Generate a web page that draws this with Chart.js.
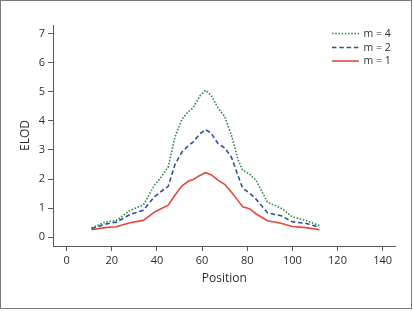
<!DOCTYPE html>
<html>
<head>
<meta charset="utf-8">
<script src="https://cdn.jsdelivr.net/npm/chart.js@4/dist/chart.umd.min.js"></script>
<style>
  html, body { margin: 0; padding: 0; background: #ffffff; }
  #frame { position: absolute; left: 0; top: 0; width: 410px; height: 307px; border: 1px solid #7a7a7a; background: #fff; }
  canvas { display: block; }
</style>
</head>
<body>
<div id="frame"><canvas id="c" width="410" height="307"></canvas></div>
<script>
// ---- data ----
const positions = [11, 17, 22, 28, 34, 39, 42, 45, 48, 51, 54, 56, 59, 61.5, 64, 67, 70, 73, 76, 78, 81, 84, 89, 95, 100, 106, 112];
const elodM4 = [0.32, 0.52, 0.58, 0.92, 1.11, 1.80, 2.08, 2.42, 3.45, 4.05, 4.32, 4.45, 4.85, 5.05, 4.88, 4.45, 4.15, 3.50, 2.65, 2.30, 2.17, 1.95, 1.20, 1.00, 0.70, 0.58, 0.40];
const elodM2 = [0.29, 0.45, 0.52, 0.78, 0.93, 1.40, 1.58, 1.75, 2.50, 2.92, 3.15, 3.27, 3.55, 3.70, 3.58, 3.22, 3.07, 2.75, 2.10, 1.68, 1.52, 1.30, 0.84, 0.74, 0.53, 0.48, 0.34];
const elodM1 = [0.26, 0.33, 0.36, 0.50, 0.58, 0.87, 0.99, 1.10, 1.45, 1.76, 1.93, 1.98, 2.12, 2.22, 2.15, 1.96, 1.82, 1.55, 1.25, 1.05, 0.98, 0.80, 0.57, 0.48, 0.37, 0.33, 0.26];
const seriesLabels = ['m = 4', 'm = 2', 'm = 1'];
const xTickValues = [0, 20, 40, 60, 80, 100, 120, 140];
const yTickValues = [0, 1, 2, 3, 4, 5, 6, 7];
const xTitle = 'Position';
const yTitle = 'ELOD';

const toPoints = (vals) => positions.map((p, i) => ({x: p, y: vals[i]}));

const FONT = '"Open Sans", "DejaVu Sans", sans-serif';
const TEXT = '#2e2e2e';
const AXIS = '#5a5a5a';

const legendPlugin = {
  id: 'manualLegend',
  afterDraw(chart) {
    const ctx = chart.ctx;
    const rows = [32.5, 46.5, 60];
    ctx.save();
    chart.data.datasets.forEach((ds, i) => {
      const y = rows[i];
      ctx.beginPath();
      ctx.strokeStyle = ds.borderColor;
      ctx.lineWidth = ds.borderWidth;
      ctx.setLineDash(ds.borderDash || []);
      ctx.moveTo(331, y);
      ctx.lineTo(358, y);
      ctx.stroke();
      ctx.setLineDash([]);
      ctx.fillStyle = TEXT;
      ctx.font = '10.5px ' + FONT;
      ctx.textAlign = 'left';
      ctx.textBaseline = 'middle';
      ctx.fillText(ds.label, 362.5, y + 0.5);
    });
    ctx.restore();
  }
};

new Chart(document.getElementById('c'), {
  type: 'scatter',
  data: {
    datasets: [
      { label: seriesLabels[0], data: toPoints(elodM4), showLine: true, borderColor: '#2e8a4e', borderWidth: 1.6, borderDash: [1.6, 1.6], pointRadius: 0, tension: 0, fill: false },
      { label: seriesLabels[1], data: toPoints(elodM2), showLine: true, borderColor: '#2d4f9c', borderWidth: 1.6, borderDash: [4.5, 2.8], pointRadius: 0, tension: 0, fill: false },
      { label: seriesLabels[2], data: toPoints(elodM1), showLine: true, borderColor: '#e2483b', borderWidth: 1.6, pointRadius: 0, tension: 0, fill: false }
    ]
  },
  plugins: [legendPlugin],
  options: {
    responsive: false,
    animation: false,
    devicePixelRatio: 1,
    layout: { padding: { left: 17, right: 15.3, top: 24, bottom: 22 } },
    plugins: { legend: { display: false }, tooltip: { enabled: false } },
    scales: {
      x: {
        type: 'linear',
        min: -6.07,
        max: 145.8,
        afterBuildTicks: (s) => { s.ticks = xTickValues.map(v => ({value: v})); },
        afterFit: (s) => { s.height = 40; },
        grid: { display: true, drawOnChartArea: false, drawTicks: true, tickLength: 5, color: AXIS, lineWidth: 1 },
        border: { display: true, color: AXIS, width: 1 },
        ticks: { color: TEXT, font: { family: FONT, size: 11 }, padding: 3, maxRotation: 0, autoSkip: false },
        title: { display: true, text: xTitle, color: TEXT, font: { family: FONT, size: 12 }, padding: 0 }
      },
      y: {
        type: 'linear',
        min: -0.3,
        max: 7.29,
        afterBuildTicks: (s) => { s.ticks = yTickValues.map(v => ({value: v})); },
        afterFit: (s) => { s.width = 35; },
        grid: { display: true, drawOnChartArea: false, drawTicks: true, tickLength: 5, color: AXIS, lineWidth: 1 },
        border: { display: true, color: AXIS, width: 1 },
        ticks: { color: TEXT, font: { family: FONT, size: 11 }, padding: 3, autoSkip: false },
        title: { display: true, text: yTitle, color: TEXT, font: { family: FONT, size: 12 }, padding: 0 }
      }
    }
  }
});
</script>
</body>
</html>
